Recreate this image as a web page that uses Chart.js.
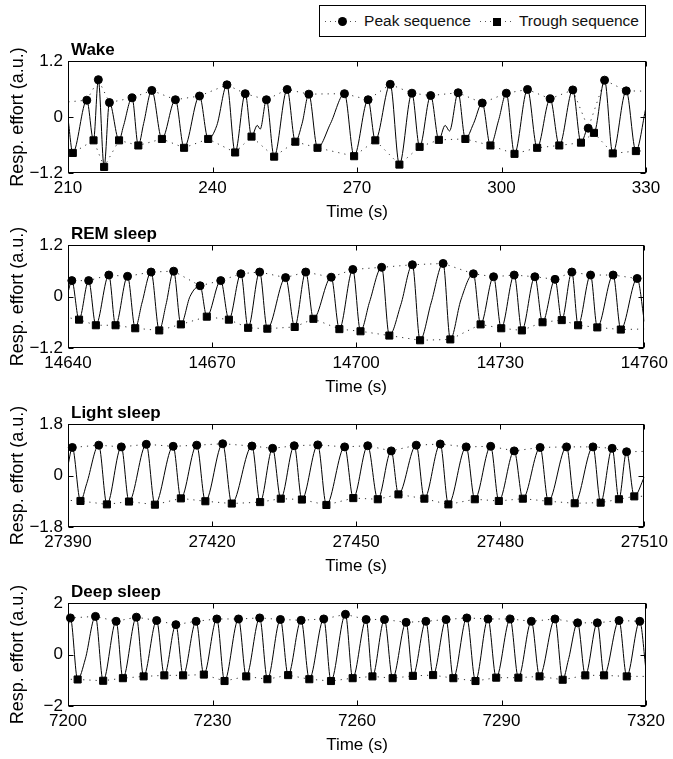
<!DOCTYPE html>
<html>
<head>
<meta charset="utf-8">
<script src="https://cdn.jsdelivr.net/npm/chart.js@4.4.0/dist/chart.umd.min.js"></script>
<style>
  html, body { margin: 0; padding: 0; background: #fff; overflow: hidden; }
  #wrap { position: relative; width: 673px; height: 759px; font-family: 'Liberation Sans', Arial, sans-serif; }
  #wrap canvas { position: absolute; left: 0; }
  #legend {
    position: absolute; right: 27px; top: 5px; height: 32px;
    border: 1px solid #000; background: #fff; box-sizing: border-box;
    display: flex; align-items: center; padding: 0 6px 0 5px;
    font-size: 15.5px; color: #111; white-space: nowrap; z-index: 2;
  }
  .sym { position: relative; display: inline-block; width: 34px; height: 20px; margin-right: 5px; }
  .sym i {
    position: absolute; left: 0; right: 0; top: 10px; height: 1px;
    background: repeating-linear-gradient(90deg, #555 0 1px, transparent 1px 5px);
  }
  .sym b { position: absolute; left: 50%; top: 50%; background: #000; }
  .sym b.circle { width: 9px; height: 9px; margin: -4px 0 0 -4.5px; border-radius: 50%; }
  .sym b.square { width: 8px; height: 8px; margin: -3.5px 0 0 -4px; }
</style>
</head>
<body>
<div id="wrap">
  <div id="legend">
    <span class="sym"><i></i><b class="circle"></b></span><span>Peak sequence</span>
    <span class="sym" style="margin-left:9px"><i></i><b class="square"></b></span><span>Trough sequence</span>
  </div>
</div>
<script>
// ---- data: [time (s), effort (a.u.)] ----
const wakePeaks = [[207.5,0.30],[213.9,0.36],[216.3,0.80],[218.6,0.31],[223.3,0.41],[227.4,0.57],[232.3,0.37],[237.3,0.45],[243.0,0.69],[246.8,0.50],[251.2,0.37],[255.5,0.59],[260.0,0.49],[267.4,0.50],[272.3,0.37],[276.9,0.70],[281.4,0.51],[285.3,0.46],[291.0,0.52],[296.0,0.30],[301.0,0.51],[305.4,0.59],[310.1,0.39],[314.8,0.58],[318.0,-0.24],[321.4,0.79],[325.9,0.56],[332.5,0.55]];
const wakeTroughs = [[208.0,-0.60],[211.0,-0.77],[215.3,-0.50],[217.5,-1.07],[220.6,-0.50],[224.6,-0.61],[229.5,-0.47],[234.1,-0.66],[239.1,-0.47],[244.7,-0.76],[248.1,-0.42],[252.8,-0.85],[257.2,-0.53],[261.8,-0.66],[269.4,-0.84],[273.8,-0.50],[278.8,-1.02],[283.0,-0.64],[287.0,-0.49],[292.5,-0.47],[297.7,-0.61],[302.7,-0.79],[307.4,-0.66],[312.0,-0.61],[316.5,-0.55],[319.2,-0.34],[323.1,-0.78],[327.9,-0.73],[333.0,-0.72]];
const wakeSignalExtra = [[210,-0.03],[221.5,-0.20],[225.7,-0.14],[240.9,-0.18],[249.3,-0.18],[249.9,-0.26],[258.6,-0.14],[264.5,-0.14],[288.3,-0.18],[289.2,-0.30],[294.2,-0.14],[299.4,-0.07],[330,0.21]];
const wakeXTicks = [210, 240, 270, 300, 330];
const wakeYTicks = [-1.2, 0, 1.2];

const remPeaks = [[14637.5,0.35],[14640.8,0.37],[14644.3,0.37],[14648.5,0.50],[14652.4,0.47],[14657.3,0.57],[14662.0,0.59],[14667.5,0.25],[14671.8,0.37],[14676.0,0.53],[14679.9,0.57],[14685.3,0.44],[14689.5,0.57],[14694.8,0.45],[14699.3,0.63],[14705.3,0.68],[14711.7,0.74],[14718.1,0.77],[14724.4,0.53],[14728.6,0.46],[14732.9,0.50],[14737.2,0.46],[14741.4,0.40],[14744.9,0.57],[14748.8,0.50],[14753.5,0.50],[14758.5,0.42],[14762.0,0.45]];
const remTroughs = [[14638.0,-0.45],[14642.3,-0.54],[14645.8,-0.67],[14649.9,-0.67],[14654.0,-0.74],[14659.0,-0.79],[14663.5,-0.65],[14668.9,-0.47],[14673.5,-0.54],[14677.5,-0.73],[14681.5,-0.75],[14687.2,-0.71],[14691.1,-0.52],[14696.5,-0.76],[14700.9,-0.81],[14706.9,-0.91],[14713.3,-1.02],[14719.6,-1.00],[14725.9,-0.65],[14730.2,-0.74],[14734.5,-0.79],[14738.8,-0.60],[14742.8,-0.55],[14746.2,-0.67],[14750.2,-0.72],[14755.1,-0.77],[14763.0,-0.75]];
const remSignalExtra = [[14640,0.10],[14655.4,-0.15],[14660.4,-0.19],[14665.4,0.00],[14702.8,-0.12],[14709.3,-0.19],[14715.6,-0.15],[14721.8,-0.08],[14760,-0.58]];
const remXTicks = [14640, 14670, 14700, 14730, 14760];
const remYTicks = [-1.2, 0, 1.2];

const lightPeaks = [[27387.5,1.00],[27390.9,0.98],[27396.4,1.06],[27401.1,1.00],[27406.3,1.09],[27411.9,1.02],[27416.8,1.06],[27422.2,1.11],[27428.3,1.03],[27432.6,0.95],[27437.1,1.04],[27442.0,1.07],[27447.6,1.00],[27452.4,1.04],[27457.3,0.86],[27462.5,1.06],[27467.5,1.10],[27472.9,1.00],[27478.0,1.02],[27482.9,0.86],[27488.3,0.98],[27493.8,1.00],[27499.3,1.00],[27503.3,0.95],[27506.3,0.83],[27512.5,0.85]];
const lightTroughs = [[27388.0,-0.85],[27392.6,-0.89],[27398.1,-1.01],[27402.7,-0.91],[27408.1,-1.02],[27413.5,-0.80],[27418.6,-0.90],[27424.1,-0.98],[27430.0,-0.93],[27434.3,-0.81],[27438.7,-0.84],[27443.8,-1.03],[27449.4,-0.79],[27454.5,-0.83],[27458.8,-0.66],[27464.2,-0.81],[27469.2,-1.01],[27474.7,-0.83],[27479.7,-0.89],[27484.7,-0.81],[27490.0,-0.90],[27495.5,-0.97],[27500.9,-0.95],[27504.7,-0.83],[27507.9,-0.73],[27512.5,-0.72]];
const lightSignalExtra = [[27390,0.36],[27393.9,-0.28],[27510,-0.05]];
const lightXTicks = [27390, 27420, 27450, 27480, 27510];
const lightYTicks = [-1.8, 0, 1.8];

const deepPeaks = [[7197.5,1.40],[7200.5,1.42],[7205.7,1.48],[7210.0,1.29],[7214.2,1.45],[7218.4,1.32],[7222.4,1.16],[7226.6,1.29],[7230.9,1.38],[7235.4,1.38],[7239.8,1.42],[7244.1,1.36],[7248.4,1.33],[7253.1,1.38],[7257.6,1.56],[7261.9,1.36],[7265.7,1.36],[7270.2,1.25],[7274.3,1.29],[7278.5,1.36],[7282.8,1.42],[7287.2,1.38],[7291.8,1.38],[7296.2,1.29],[7301.1,1.38],[7305.8,1.23],[7309.9,1.23],[7314.4,1.32],[7318.7,1.29],[7322.5,1.30]];
const deepTroughs = [[7198.0,-0.95],[7202.0,-0.97],[7207.3,-1.02],[7211.4,-0.92],[7215.7,-0.85],[7220.0,-0.81],[7223.9,-0.81],[7228.2,-0.78],[7232.5,-1.03],[7237.0,-0.85],[7241.4,-0.96],[7245.7,-0.80],[7250.1,-0.96],[7254.6,-1.03],[7259.1,-0.92],[7263.2,-0.85],[7267.4,-0.92],[7271.6,-0.83],[7275.8,-0.80],[7280.0,-0.92],[7284.6,-1.03],[7288.9,-0.90],[7293.5,-0.90],[7297.9,-0.85],[7302.7,-0.98],[7307.4,-0.81],[7311.3,-0.81],[7316.0,-0.85],[7322.5,-0.85]];
const deepSignalExtra = [[7200,1.10],[7203.6,-0.17],[7303.9,-0.20],[7320,-0.60]];
const deepXTicks = [7200, 7230, 7260, 7290, 7320];
const deepYTicks = [-2, 0, 2];

// ---- layout ----
const panels = [
  { title: 'Wake', peaks: wakePeaks, troughs: wakeTroughs, extra: wakeSignalExtra, xTicks: wakeXTicks, yTicks: wakeYTicks, top: 61, bottom: 173 },
  { title: 'REM sleep', peaks: remPeaks, troughs: remTroughs, extra: remSignalExtra, xTicks: remXTicks, yTicks: remYTicks, top: 245, bottom: 348 },
  { title: 'Light sleep', peaks: lightPeaks, troughs: lightTroughs, extra: lightSignalExtra, xTicks: lightXTicks, yTicks: lightYTicks, top: 424, bottom: 527 },
  { title: 'Deep sleep', peaks: deepPeaks, troughs: deepTroughs, extra: deepSignalExtra, xTicks: deepXTicks, yTicks: deepYTicks, top: 603, bottom: 706 }
];

const W = 673;
const AREA_LEFT = 68;
const AREA_RIGHT = 646;
const PAD_TOP = 26;
const XAXIS_H = 56;
const FONT = "'Liberation Sans', Arial, Helvetica, sans-serif";

Chart.defaults.font.family = FONT;
Chart.defaults.color = '#000';

const fmt = v => (v < 0 ? '\u2212' + Math.abs(v) : String(v));
const toPts = list => list.map(p => ({ x: p[0], y: p[1] }));

// box, inward ticks (both sides) and bold panel title, MATLAB style
const framePlugin = {
  id: 'frame',
  afterDatasetsDraw(chart, args, opts) {
    const { ctx, chartArea: a, scales } = chart;
    const l = Math.round(a.left) + 0.5, r = Math.round(a.right) - 0.5;
    const t = Math.round(a.top) + 0.5, b = Math.round(a.bottom) - 0.5;
    ctx.save();
    ctx.strokeStyle = '#000';
    ctx.lineWidth = 1;
    ctx.strokeRect(l, t, r - l, b - t);
    ctx.beginPath();
    scales.x.ticks.forEach(tk => {
      const x = Math.round(scales.x.getPixelForValue(tk.value)) + 0.5;
      ctx.moveTo(x, b); ctx.lineTo(x, b - 5);
      ctx.moveTo(x, t); ctx.lineTo(x, t + 5);
    });
    scales.y.ticks.forEach(tk => {
      const y = Math.round(scales.y.getPixelForValue(tk.value)) + 0.5;
      ctx.moveTo(l, y); ctx.lineTo(l + 5, y);
      ctx.moveTo(r, y); ctx.lineTo(r - 5, y);
    });
    ctx.stroke();
    ctx.fillStyle = '#000';
    ctx.font = 'bold 17px ' + FONT;
    ctx.textBaseline = 'alphabetic';
    ctx.fillText(opts.title, a.left + 3, a.top - 6);
    ctx.restore();
  }
};

const wrap = document.getElementById('wrap');

panels.forEach(p => {
  const xMin = p.xTicks[0], xMax = p.xTicks[p.xTicks.length - 1];
  const yMin = p.yTicks[0], yMax = p.yTicks[p.yTicks.length - 1];
  const inRange = pt => pt[0] >= xMin && pt[0] <= xMax;
  const signal = p.peaks.concat(p.troughs, p.extra).filter(inRange).sort((a, b) => a[0] - b[0]);

  const canvas = document.createElement('canvas');
  canvas.width = W;
  canvas.height = p.bottom - p.top + PAD_TOP + XAXIS_H;
  canvas.style.top = (p.top - PAD_TOP) + 'px';
  wrap.appendChild(canvas);

  const dotted = { showLine: true, borderColor: '#333', borderWidth: 1, borderDash: [1.2, 5], pointRadius: 0, tension: 0 };

  new Chart(canvas, {
    type: 'line',
    data: {
      datasets: [
        { data: toPts(p.peaks.filter(inRange)), showLine: false, pointStyle: 'circle', pointRadius: 4, pointBackgroundColor: '#000', pointBorderColor: '#000', pointBorderWidth: 1, clip: false },
        { data: toPts(p.troughs.filter(inRange)), showLine: false, pointStyle: 'rect', pointRadius: 5, pointBackgroundColor: '#000', pointBorderColor: '#000', pointBorderWidth: 1, clip: false },
        { data: toPts(signal), borderColor: '#000', borderWidth: 1, pointRadius: 0, cubicInterpolationMode: 'monotone' },
        Object.assign({ data: toPts(p.peaks) }, dotted),
        Object.assign({ data: toPts(p.troughs) }, dotted)
      ]
    },
    options: {
      responsive: false,
      animation: false,
      events: [],
      layout: { padding: { left: 0, right: W - AREA_RIGHT, top: PAD_TOP, bottom: 0 } },
      plugins: { legend: { display: false }, tooltip: { enabled: false }, frame: { title: p.title } },
      scales: {
        x: {
          type: 'linear', min: xMin, max: xMax,
          afterBuildTicks: s => { s.ticks = p.xTicks.map(v => ({ value: v })); },
          afterFit: s => { s.height = XAXIS_H; },
          ticks: { font: { size: 17 }, color: '#000', padding: 5, maxRotation: 0, autoSkip: false, callback: v => fmt(v) },
          grid: { display: false, drawTicks: false },
          border: { display: false },
          title: { display: true, text: 'Time (s)', font: { size: 17 }, color: '#000', padding: { top: 0, bottom: 6 } }
        },
        y: {
          type: 'linear', min: yMin, max: yMax,
          afterBuildTicks: s => { s.ticks = p.yTicks.map(v => ({ value: v })); },
          afterFit: s => { s.width = AREA_LEFT; },
          ticks: { font: { size: 17 }, color: '#000', padding: 5, autoSkip: false, callback: v => fmt(v) },
          grid: { display: false, drawTicks: false },
          border: { display: false },
          title: { display: true, text: 'Resp. effort (a.u.)', font: { size: 18 }, color: '#000', padding: { top: 7, bottom: 0 } }
        }
      }
    },
    plugins: [framePlugin]
  });
});
</script>
</body>
</html>
